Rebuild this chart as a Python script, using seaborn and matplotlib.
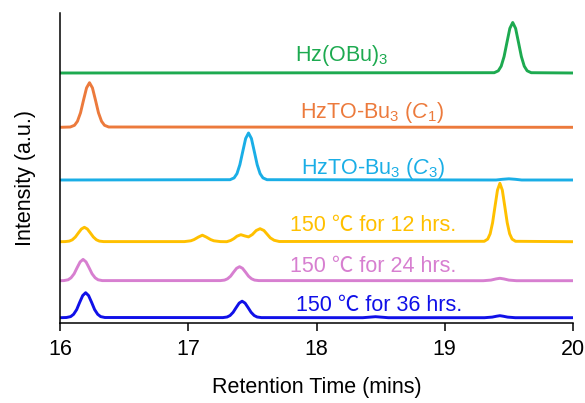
import numpy as np
import pandas as pd
import matplotlib
matplotlib.use("Agg")
import matplotlib.pyplot as plt
import seaborn as sns

# ---- data (intensity in arbitrary units) ----
names = ["Hz(OBu)3", "HzTO-Bu3 (C1)", "HzTO-Bu3 (C3)", "12 hrs", "24 hrs", "36 hrs"]
offsets = [250.0, 195.7, 143.0, 81.3, 42.3, 5.3]

green_x = [16.0,
           19.386, 19.4175, 19.44, 19.4625, 19.485, 19.5075, 19.53, 19.5525, 19.575, 19.5975, 19.62, 19.6425, 19.674,
           20.0]
green_y = [0.0,
           0.3, 2.2, 6.8, 16.4, 30.6, 44.6, 50.5, 44.6, 30.6, 16.4, 6.8, 2.2, 0.3,
           0.0]

orange_x = [16.0,
            16.08, 16.113, 16.136, 16.16, 16.183, 16.207, 16.23, 16.253, 16.277, 16.30, 16.324, 16.347, 16.38,
            20.0]
orange_y = [0.0,
            0.3, 2.0, 6.0, 14.5, 27.0, 39.4, 44.6, 39.4, 27.0, 14.5, 6.0, 2.0, 0.3,
            0.0]

cyan_x = [16.0,
          17.326, 17.3575, 17.38, 17.4025, 17.425, 17.4475, 17.47, 17.4925, 17.515, 17.5375, 17.56, 17.5825, 17.614,
          19.40, 19.45, 19.50, 19.55, 19.60, 20.0]
cyan_y = [0.0,
          0.3, 2.1, 6.4, 15.3, 28.5, 41.5, 47.0, 41.5, 28.5, 15.3, 6.4, 2.1, 0.3,
          0.0, 0.7, 1.2, 0.7, 0.0, 0.0]

yellow_x = [16.0,
            16.04, 16.073, 16.096, 16.12, 16.143, 16.167, 16.19, 16.213, 16.237, 16.26, 16.284, 16.307, 16.34,
            16.97, 17.02, 17.045, 17.08, 17.11, 17.14, 17.175, 17.20, 17.25,
            17.30, 17.33, 17.355, 17.38, 17.41, 17.44, 17.47, 17.50, 17.53, 17.56, 17.59, 17.615, 17.64, 17.67, 17.71,
            19.308, 19.335, 19.354, 19.373, 19.392, 19.411, 19.43, 19.449, 19.468, 19.487, 19.506, 19.525, 19.552,
            20.0]
yellow_y = [0.0,
            0.1, 0.6, 1.9, 4.7, 8.7, 12.7, 14.4, 12.7, 8.7, 4.7, 1.9, 0.6, 0.1,
            0.1, 0.9, 2.1, 4.7, 6.5, 4.7, 2.1, 0.9, 0.1,
            0.0, 1.2, 3.0, 5.5, 7.0, 5.8, 4.8, 7.2, 11.2, 13.0, 11.2, 7.5, 3.8, 1.4, 0.2,
            0.4, 2.6, 7.9, 19.0, 35.4, 51.5, 58.4, 51.5, 35.4, 19.0, 7.9, 2.6, 0.4,
            0.0]

pink_x = [16.0,
          16.03, 16.063, 16.086, 16.11, 16.133, 16.157, 16.18, 16.203, 16.227, 16.25, 16.274, 16.297, 16.33,
          17.25, 17.283, 17.306, 17.33, 17.353, 17.377, 17.40, 17.423, 17.447, 17.47, 17.494, 17.517, 17.55,
          19.30, 19.36, 19.40, 19.43, 19.46, 19.50, 19.56,
          20.0]
pink_y = [0.0,
          0.1, 0.9, 2.9, 6.9, 12.9, 18.8, 21.3, 18.8, 12.9, 6.9, 2.9, 0.9, 0.1,
          0.1, 0.6, 1.9, 4.5, 8.5, 12.4, 14.0, 12.4, 8.5, 4.5, 1.9, 0.6, 0.1,
          0.0, 0.6, 1.8, 2.4, 1.8, 0.6, 0.0,
          0.0]

blue_x = [16.0,
          16.05, 16.083, 16.106, 16.13, 16.153, 16.177, 16.20, 16.223, 16.247, 16.27, 16.294, 16.317, 16.35,
          17.27, 17.303, 17.326, 17.35, 17.373, 17.397, 17.42, 17.443, 17.467, 17.49, 17.514, 17.537, 17.57,
          18.36, 18.42, 18.46, 18.50, 18.56,
          19.31, 19.37, 19.405, 19.43, 19.455, 19.49, 19.55,
          20.0]
blue_y = [0.0,
          0.2, 1.1, 3.4, 8.1, 15.2, 22.1, 25.0, 22.1, 15.2, 8.1, 3.4, 1.1, 0.2,
          0.1, 0.7, 2.2, 5.4, 10.0, 14.6, 16.5, 14.6, 10.0, 5.4, 2.2, 0.7, 0.1,
          0.0, 0.6, 1.0, 0.6, 0.0,
          0.0, 0.6, 1.5, 2.0, 1.5, 0.6, 0.0,
          0.0]

labels = [r"Hz(OBu)$_3$", r"HzTO-Bu$_3$ ($\mathit{C_1}$)", r"HzTO-Bu$_3$ ($\mathit{C_3}$)",
          "150 \u2103 for 12 hrs.", "150 \u2103 for 24 hrs.", "150 \u2103 for 36 hrs."]
xticks = [16, 17, 18, 19, 20]

colors = ["#1DAA50", "#EC7A3C", "#1AAEE6", "#FFC000", "#D77FD0", "#1010E8"]

# ---- build table ----
xs = [green_x, orange_x, cyan_x, yellow_x, pink_x, blue_x]
ys = [green_y, orange_y, cyan_y, yellow_y, pink_y, blue_y]
rows = []
for n, off, xx, yy in zip(names, offsets, xs, ys):
    for i, (a, b) in enumerate(zip(xx, yy)):
        rows.append({"trace": n, "idx": i, "x": a, "y": b + off})
df = pd.DataFrame(rows)

sns.set_theme(style="white")
plt.rcParams["font.family"] = ["Liberation Sans", "Noto Sans CJK SC", "DejaVu Sans"]
plt.rcParams["mathtext.fontset"] = "custom"
plt.rcParams["mathtext.rm"] = "Liberation Sans"
plt.rcParams["mathtext.it"] = "Liberation Sans:italic"
plt.rcParams["lines.solid_joinstyle"] = "round"
plt.rcParams["lines.solid_capstyle"] = "butt"

fig = plt.figure(figsize=(5.85, 4.03), dpi=100)
ax = fig.add_axes([60/585, 80/403, 513/585, 310/403])

sns.lineplot(data=df, x="x", y="y", hue="trace", palette=colors, hue_order=names,
             sort=False, estimator=None, units="trace", legend=False,
             linewidth=2.1, ax=ax)

# labels
label_pos_x = [18.20, 18.43, 18.44, 18.44, 18.44, 18.49]
label_pos_y = [261.6, 205.3, 149.0, 91.6, 50.6, 12.0]
for t, c, lx, ly in zip(labels, colors, label_pos_x, label_pos_y):
    ax.text(lx, ly, t, color=c, fontsize=15.5, ha="center", va="baseline")

ax.set_xlim(16, 20)
ax.set_ylim(0, 310)
ax.set_xticks(xticks)
ax.set_xticklabels([str(v) for v in xticks])
ax.set_yticks([])
for s in ["top", "right"]:
    ax.spines[s].set_visible(False)
for s in ["left", "bottom"]:
    ax.spines[s].set_color("black")
    ax.spines[s].set_linewidth(1.1)
ax.tick_params(axis="x", direction="out", length=5.5, width=1.1, color="black",
               labelcolor="black", labelsize=15.5, pad=6, bottom=True)

ax.set_xlabel("Retention Time (mins)", fontsize=15.5, color="black")
ax.xaxis.label.set_va("center")
ax.xaxis.set_label_coords(0.5, -0.207)
ax.set_ylabel("Intensity (a.u.)", fontsize=15.5, color="black")
ax.yaxis.label.set_va("center")
ax.yaxis.set_label_coords(-0.068, 0.468)

fig.savefig("out.png", dpi=100)
